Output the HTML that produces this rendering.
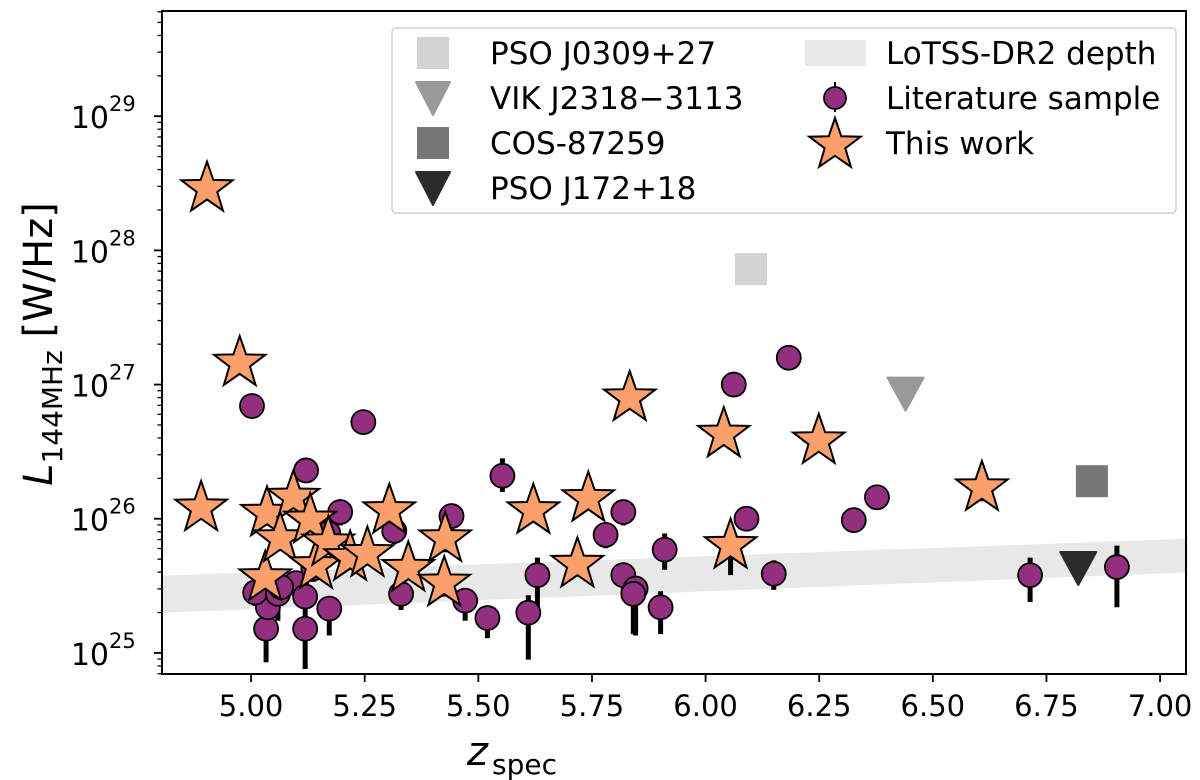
<!DOCTYPE html>
<html><head><meta charset="utf-8"><style>
body{margin:0;background:#fff}
svg{display:block;font-family:"DejaVu Sans","Liberation Sans",sans-serif}
</style></head><body>
<svg id="chart" width="1200" height="780">
<rect x="0" y="0" width="1200" height="780" fill="#fff"/>
<g id="band"></g>
<g id="errs"></g>
<g id="marks"></g>
<g id="axes"></g>
<g id="legend"></g>
</svg>
<script>
// ---- data ----
const litZ = [5.002,5.121,5.196,5.170,5.099,5.119,5.172,5.033,5.119,5.037,5.009,5.059,5.066,5.137,5.247,5.315,5.330,5.441,5.471,5.520,5.553,5.630,5.610,5.780,5.819,5.819,5.846,5.841,5.901,5.910,6.062,6.183,6.090,6.150,6.326,6.377,6.714,6.905];
const litL = [26.84,26.36,26.05,25.89,25.52,25.42,25.33,25.18,25.18,25.34,25.45,25.44,25.49,25.63,26.72,25.91,25.44,26.02,25.39,25.26,26.32,25.58,25.30,25.88,26.05,25.58,25.48,25.44,25.34,25.77,27.00,27.20,26.00,25.59,25.99,26.16,25.58,25.64];
const litErrLo = [0,0.05,0.1,0.15,0.15,0.2,0.2,0.25,0.3,0.15,0.1,0.2,0.1,0.1,0,0.1,0.12,0.1,0.15,0.15,0.12,0.3,0.35,0.1,0.1,0.15,0.35,0.3,0.2,0.15,0,0,0.05,0.12,0.05,0.05,0.2,0.3];
const litErrHi = [0,0.05,0.05,0.05,0.05,0.05,0.05,0.05,0.05,0.05,0.05,0.05,0.05,0.05,0,0.05,0.05,0.05,0.05,0.05,0.13,0.13,0.13,0.05,0.05,0.05,0.08,0.08,0.12,0.12,0,0,0.08,0.1,0.02,0.02,0.13,0.16];
const starZ = [4.903,4.975,4.890,5.031,5.035,5.093,5.064,5.130,5.143,5.170,5.304,5.218,5.256,5.346,5.427,5.425,5.621,5.718,5.742,5.833,6.040,6.055,6.249,6.608];
const starL = [28.46,27.16,26.08,25.56,26.04,26.16,25.85,25.99,25.65,25.82,26.06,25.71,25.74,25.63,25.85,25.52,26.06,25.66,26.15,26.90,26.63,25.80,26.58,26.23];
const starErrLo = [0,0,0,0,0,0,0,0,0.05,0,0,0.05,0,0,0.1,0.1,0,0.08,0,0,0,0.22,0,0.1];
const specNames = ["PSO J0309+27","VIK J2318\u22123113","COS-87259","PSO J172+18"];
const specZ = [6.10,6.44,6.85,6.82];
const specL = [27.86,26.94,26.28,25.64];
const specShape = ["square","tri","square","tri"];
const specColor = ["#d3d3d3","#999999","#777777","#2b2b2b"];
const bandZ = [4.804,7.057];
const bandLo = [25.30,25.60];
const bandHi = [25.575,25.85];
const xTicks = [5.00,5.25,5.50,5.75,6.00,6.25,6.50,6.75,7.00];
const yTicks = [25,26,27,28,29];

// ---- axes functions ----
const X0=162,X1=1186,Y0=11,Y1=674;
const zMin=4.804,zMax=7.057,lMin=24.843,lMax=29.784;
const sx=z=>X0+(z-zMin)/(zMax-zMin)*(X1-X0);
const sy=l=>Y1-(l-lMin)/(lMax-lMin)*(Y1-Y0);
const NS="http://www.w3.org/2000/svg";
function mk(tag,attrs,parent){const e=document.createElementNS(NS,tag);for(const k in attrs)e.setAttribute(k,attrs[k]);parent.appendChild(e);return e;}
function starPts(cx,cy,R){const r=R*0.4;let p=[];for(let i=0;i<10;i++){const a=-Math.PI/2+i*Math.PI/5;const rr=i%2?r:R;p.push((cx+rr*Math.cos(a)).toFixed(1)+","+(cy+rr*Math.sin(a)).toFixed(1));}return p.join(" ");}

const gb=document.getElementById('band'),ge=document.getElementById('errs'),gm=document.getElementById('marks'),ga=document.getElementById('axes'),gl=document.getElementById('legend');
let bp=mk('polygon',{points:`${sx(bandZ[0])},${sy(bandHi[0])} ${sx(bandZ[1])},${sy(bandHi[1])} ${sx(bandZ[1])},${sy(bandLo[1])} ${sx(bandZ[0])},${sy(bandLo[0])}`,fill:'#e8e8e8'},gb);



litZ.forEach((z,i)=>{
  if(litErrLo[i]||litErrHi[i]){
    const l=mk('line',{x1:sx(z),x2:sx(z),y1:sy(litL[i]+litErrHi[i]),y2:sy(litL[i]-litErrLo[i]),stroke:'#000','stroke-width':5},ge);
    
    
  }
});
starZ.forEach((z,i)=>{
  if(starErrLo[i]){
    const l=mk('line',{x1:sx(z),x2:sx(z),y1:sy(starL[i]),y2:sy(starL[i]-starErrLo[i]),stroke:'#000','stroke-width':5},ge);
    
    
  }
});
litZ.forEach((z,i)=>{
  const c=mk('circle',{cx:sx(z),cy:sy(litL[i]),r:12,fill:'#932f7f',stroke:'#000','stroke-width':1.8},gm);
  
  
});
specZ.forEach((z,i)=>{
  const x=sx(z),y=sy(specL[i]);let e;
  if(specShape[i]==='square') e=mk('rect',{x:x-16,y:y-16,width:32,height:32,fill:specColor[i]},gm);
  else e=mk('polygon',{points:`${x-18},${y-15} ${x+18},${y-15} ${x},${y+18}`,fill:specColor[i],'stroke':specColor[i],'stroke-width':2,'stroke-linejoin':'round'},gm);
  
  
});
starZ.forEach((z,i)=>{
  const s=mk('polygon',{points:starPts(sx(z),sy(starL[i]),27),fill:'#fca06b',stroke:'#000','stroke-width':2,'stroke-linejoin':'miter'},gm);
  
  
});

// axes frame
const fr=mk('rect',{x:X0,y:Y0,width:X1-X0,height:Y1-Y0,fill:'none',stroke:'#000','stroke-width':2},ga);


xTicks.forEach(t=>{
  const x=sx(t);
  mk('line',{x1:x,x2:x,y1:Y1,y2:Y1+8,stroke:'#000','stroke-width':1.8},ga);
  const tx=mk('text',{x:x,y:Y1+42,'font-size':29,'text-anchor':'middle',fill:'#000'},ga);
  tx.textContent=t.toFixed(2);
  
  
});
yTicks.forEach(t=>{
  const y=sy(t);
  mk('line',{x1:X0-8,x2:X0,y1:y,y2:y,stroke:'#000','stroke-width':1.8},ga);
  const tx=mk('text',{x:109,y:y+12,'font-size':30,'text-anchor':'end',fill:'#000'},ga);
  tx.textContent='10';
  const sup=mk('text',{x:109,y:y-5,'font-size':21,'text-anchor':'start',fill:'#000'},ga);
  sup.textContent=String(t);
  
  
});
for(let d=24;d<=29;d++){for(let m=2;m<=9;m++){const l=d+Math.log10(m);if(l<lMin||l>lMax)continue;const y=sy(l);mk('line',{x1:X0-4.5,x2:X0,y1:y,y2:y,stroke:'#000','stroke-width':1.3},ga);}}
// axis titles
const xt=mk('text',{x:467,y:765,'font-size':40,fill:'#000','font-style':'italic'},ga);
xt.textContent='z';


const xs=mk('text',{x:492,y:774,'font-size':28,fill:'#000'},ga);xs.textContent='spec';
const yt=mk('text',{transform:'translate(52,344) rotate(-90)','font-size':40,'text-anchor':'middle',fill:'#000'},ga);
yt.innerHTML='<tspan font-style="italic">L</tspan><tspan font-size="28" dy="10">144MHz</tspan><tspan dy="-10"> [W/Hz]</tspan>';



// legend
const lb=mk('rect',{x:392,y:28,width:784,height:185,rx:4,fill:'#fff','fill-opacity':0.85,stroke:'#d0d0d0','stroke-width':1.5},gl);


const rows=[53,98,143,188];
specNames.forEach((n,i)=>{
  const y=rows[i],x=433;
  if(specShape[i]==='square') mk('rect',{x:x-16,y:y-16,width:32,height:32,fill:specColor[i]},gl);
  else mk('polygon',{points:`${x-17},${y-16} ${x+17},${y-16} ${x},${y+17}`,fill:specColor[i],stroke:specColor[i],'stroke-width':2,'stroke-linejoin':'round'},gl);
  const t=mk('text',{x:490,y:y+11,'font-size':31,fill:'#000'},gl);t.textContent=n;
  
  
});
mk('rect',{x:805,y:40,width:61,height:26,fill:'#e8e8e8'},gl);
mk('line',{x1:835,x2:835,y1:82,y2:112,stroke:'#000','stroke-width':2},gl);
mk('circle',{cx:835,cy:98,r:11,fill:'#932f7f',stroke:'#000','stroke-width':1.8},gl);
mk('polygon',{points:starPts(835,145,27),fill:'#fca06b',stroke:'#000','stroke-width':2},gl);
[['LoTSS-DR2 depth',53],['Literature sample',98],['This work',143]].forEach(([n,y])=>{
  const t=mk('text',{x:886,y:y+11,'font-size':31,fill:'#000'},gl);t.textContent=n;
  
  
});
</script>
</body></html>
